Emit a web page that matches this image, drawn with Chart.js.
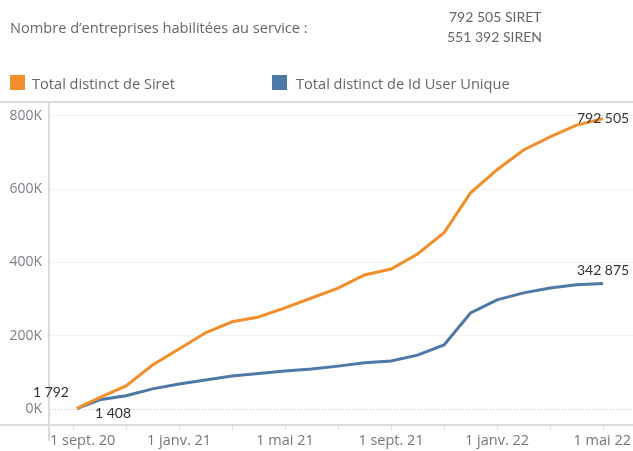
<!DOCTYPE html>
<html>
<head>
<meta charset="utf-8">
<script src="https://cdn.jsdelivr.net/npm/chart.js@4/dist/chart.umd.min.js"></script>
<style>
  body { margin: 0; background: #fff; }
  #wrap { position: relative; width: 633px; height: 451px; font-family: "Open Sans", sans-serif; }
  canvas { position: absolute; left: 0; top: 0; }
  .t { position: absolute; color: #666; font-size: 14.6px; white-space: nowrap; line-height: 16px; }
  .n { font-family: Lato, sans-serif; font-size: 14px; }
  .sw { position: absolute; width: 15px; height: 15px; }
</style>
</head>
<body>
<div id="wrap">
  <canvas id="chart" width="633" height="451"></canvas>
  <div class="t" style="left:10px;top:19px">Nombre d’entreprises habilitées au service :</div>
  <div class="t n" style="left:449px;top:9px">792 505 SIRET</div>
  <div class="t n" style="left:447px;top:29px">551 392 SIREN</div>
  <div class="sw" style="left:10px;top:75px;background:#f28e2b"></div>
  <div class="t" style="left:32px;top:75px">Total distinct de Siret</div>
  <div class="sw" style="left:272px;top:75px;background:#4e79a7"></div>
  <div class="t" style="left:296px;top:75px">Total distinct de Id User Unique</div>
</div>
<script>
// months since 1 sept. 2020 (first point is a few days in)
const months = [0.15, 1, 2, 3, 4, 5, 6, 7, 8, 9, 10, 11, 12, 13, 14, 15, 16, 17, 18, 19, 20];
const siret = [1792, 31000, 63000, 120000, 164000, 208000, 238000, 251000, 276000, 303000, 330000,
  366000, 382000, 423000, 481000, 590000, 653000, 707000, 743000, 775000, 792505];
const users = [1408, 25000, 36000, 55000, 68000, 79000, 90000, 97000, 104000, 109000, 117000,
  126000, 131000, 147000, 175000, 262000, 298000, 317000, 330000, 339000, 342875];
const xTicks = [0, 2, 4, 6, 8, 10, 12, 14, 16, 18, 20];
const xLabels = { 0: '1 sept. 20', 4: '1 janv. 21', 8: '1 mai 21', 12: '1 sept. 21', 16: '1 janv. 22', 20: '1 mai 22' };
const yTicks = [0, 200000, 400000, 600000, 800000];

const fmt = v => String(v).replace(/\B(?=(\d{3})+(?!\d))/g, ' ');

// frame lines, dotted zero line, x labels and point labels
const decor = {
  id: 'decor',
  beforeDatasetsDraw(chart) {
    const { ctx, chartArea: a, scales: { y } } = chart;
    ctx.save();
    ctx.strokeStyle = '#dcdcdc';
    ctx.lineWidth = 2;
    ctx.beginPath();
    ctx.moveTo(0, a.top); ctx.lineTo(chart.width, a.top);
    ctx.moveTo(0, a.bottom); ctx.lineTo(chart.width, a.bottom);
    ctx.moveTo(a.left, a.top); ctx.lineTo(a.left, chart.height - 10);
    ctx.stroke();
    ctx.lineWidth = 1;
    ctx.strokeStyle = '#c8c8c8';
    ctx.setLineDash([1, 2]);
    const y0 = Math.round(y.getPixelForValue(0)) + 0.5;
    ctx.beginPath();
    ctx.moveTo(a.left, y0); ctx.lineTo(a.right, y0);
    ctx.stroke();
    ctx.restore();
  },
  afterDatasetsDraw(chart) {
    const { ctx, chartArea: a, scales: { x, y } } = chart;
    ctx.save();
    ctx.font = '14.5px "Open Sans", sans-serif';
    ctx.fillStyle = '#777';
    ctx.textBaseline = 'middle';
    Object.keys(xLabels).forEach(k => {
      const txt = xLabels[k];
      const w = ctx.measureText(txt).width;
      let left = x.getPixelForValue(+k) - w / 2;
      left = Math.max(left, a.left + 1);
      left = Math.min(left, chart.width - w - 2);
      ctx.fillText(txt, left, a.bottom + 16);
    });
    ctx.fillStyle = '#333';
    ctx.font = '14px Lato, sans-serif';
    const n = months.length - 1;
    const px = i => x.getPixelForValue(months[i]);
    ctx.textAlign = 'right';
    ctx.fillText(fmt(siret[0]), px(0) - 8, y.getPixelForValue(siret[0]) - 16);
    ctx.textAlign = 'left';
    ctx.fillText(fmt(users[0]), px(0) + 18, y.getPixelForValue(users[0]) + 5);
    ctx.textAlign = 'center';
    ctx.fillText(fmt(siret[n]), px(n), y.getPixelForValue(siret[n]));
    ctx.fillText(fmt(users[n]), px(n), y.getPixelForValue(users[n]) - 13);
    ctx.restore();
  }
};

new Chart(document.getElementById('chart'), {
  type: 'line',
  data: {
    datasets: [
      {
        label: 'Total distinct de Siret',
        data: months.map((m, i) => ({ x: m, y: siret[i] })),
        borderColor: '#f28e2b',
        borderWidth: 3,
        pointRadius: 0,
        tension: 0
      },
      {
        label: 'Total distinct de Id User Unique',
        data: months.map((m, i) => ({ x: m, y: users[i] })),
        borderColor: '#4e79a7',
        borderWidth: 3,
        pointRadius: 0,
        tension: 0
      }
    ]
  },
  options: {
    responsive: false,
    animation: false,
    layout: { padding: { top: 102, right: 0, left: 0, bottom: 0 } },
    plugins: { legend: { display: false }, tooltip: { enabled: false } },
    scales: {
      x: {
        type: 'linear',
        min: -0.906,
        max: 21.13,
        afterFit: s => { s.height = 26; },
        afterBuildTicks: s => { s.ticks = xTicks.map(v => ({ value: v })); },
        ticks: { display: false },
        border: { display: false },
        grid: { drawOnChartArea: false, drawTicks: true, tickLength: 6, color: '#e4e4e4' }
      },
      y: {
        min: -43700,
        max: 838000,
        afterFit: s => { s.width = 49; },
        afterBuildTicks: s => { s.ticks = yTicks.map(v => ({ value: v })); },
        ticks: {
          color: '#7a7f88',
          font: { family: '"Open Sans", sans-serif', size: 14 },
          padding: 7,
          callback: v => (v / 1000) + 'K'
        },
        border: { display: false },
        grid: {
          drawTicks: false,
          color: c => (c.tick && c.tick.value === 0 ? 'rgba(0,0,0,0)' : '#f2f2f2')
        }
      }
    }
  },
  plugins: [decor]
});
</script>
</body>
</html>
